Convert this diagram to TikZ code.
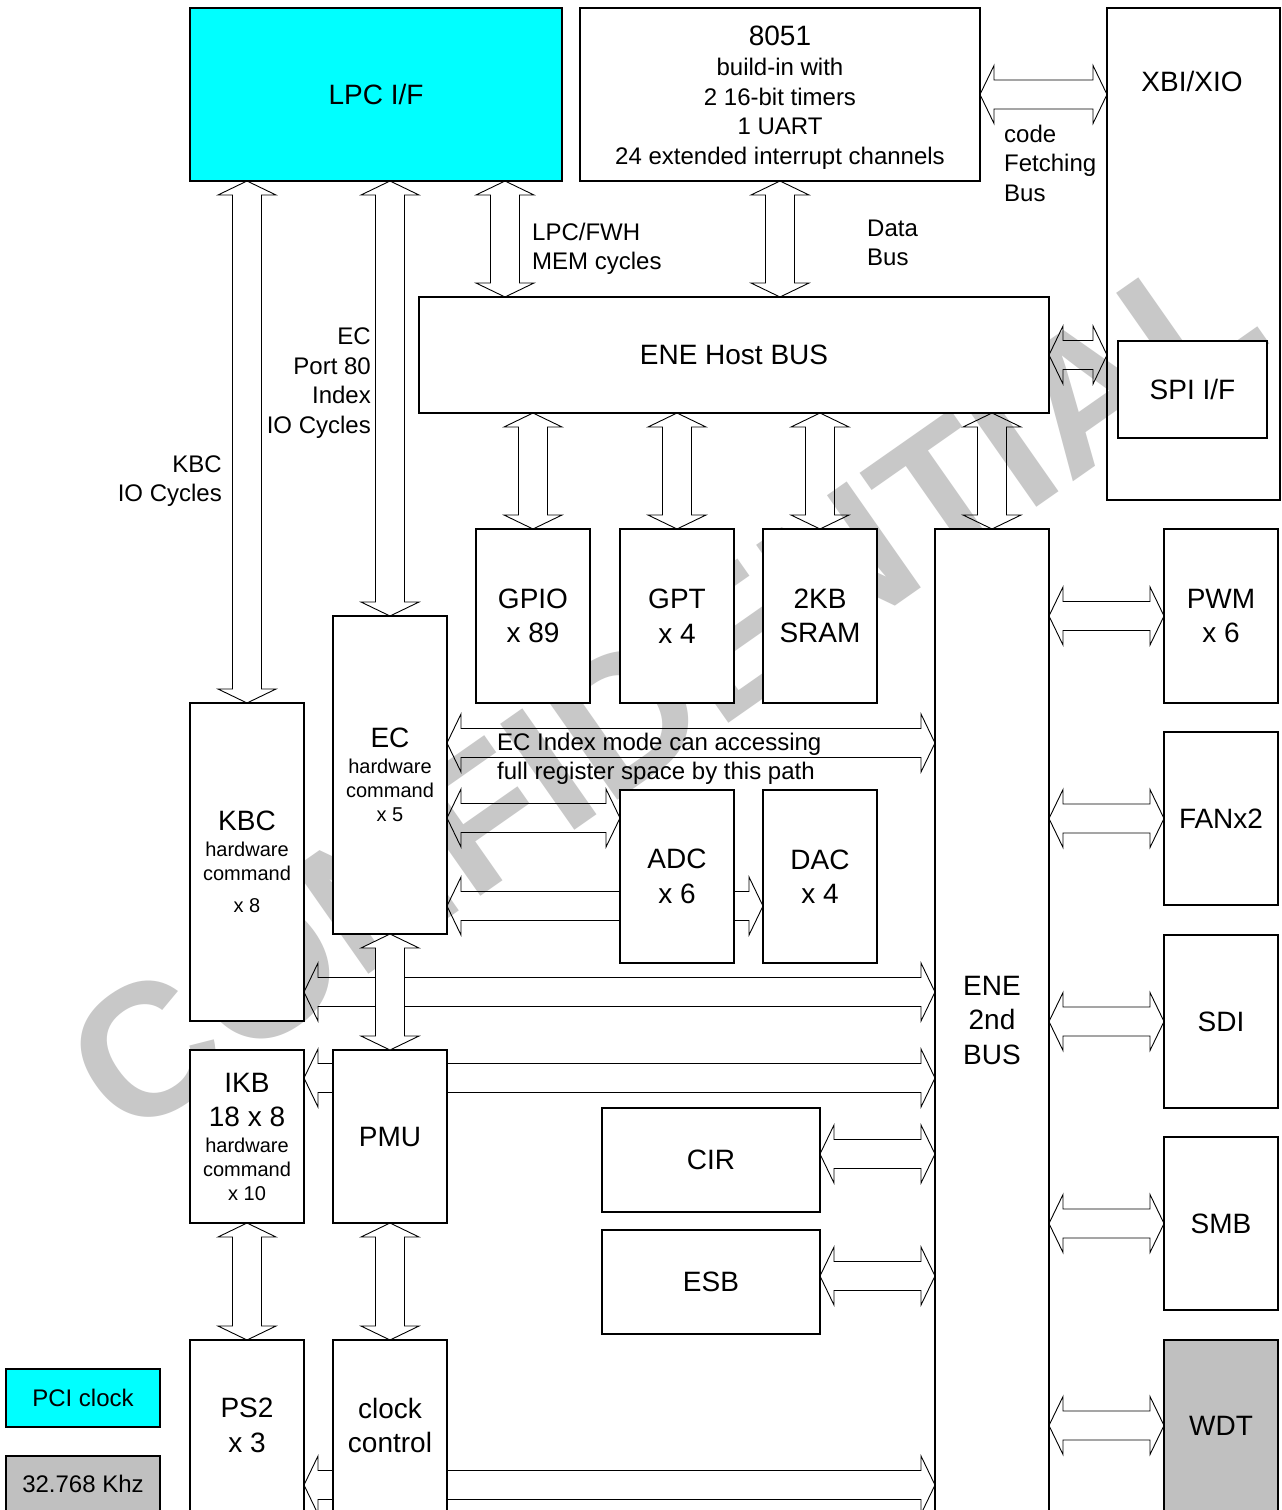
\documentclass[tikz,border=0pt]{standalone}
\usepackage{fontspec}
\setmainfont{Liberation Sans}
\usetikzlibrary{calc}
\definecolor{cyanbox}{RGB}{0,255,255}
\definecolor{graybox}{RGB}{192,192,192}
\definecolor{wmgray}{RGB}{200,200,200}
\pgfdeclarelayer{wmark}
\pgfdeclarelayer{arrows}
\pgfsetlayers{wmark,arrows,main}
% double-headed horizontal block arrow: left tip #2, right tip #3
\newcommand\HArr[3][blk]{%
 \draw[#1] let \p1=(#2), \p2=(#3) in
 (\x1,\y1) -- (\x1+14pt,\y1+29pt) -- (\x1+14pt,\y1+14.5pt) -- (\x2-14pt,\y1+14.5pt) -- (\x2-14pt,\y1+29pt) -- (\x2,\y1)
 -- (\x2-14pt,\y1-29pt) -- (\x2-14pt,\y1-14.5pt) -- (\x1+14pt,\y1-14.5pt) -- (\x1+14pt,\y1-29pt) -- cycle;}
% double-headed vertical block arrow: top tip #2, bottom tip #3
\newcommand\VArr[3][blk]{%
 \draw[#1] let \p1=(#2), \p2=(#3) in
 (\x1,\y1) -- (\x1+29pt,\y1-14pt) -- (\x1+14.5pt,\y1-14pt) -- (\x1+14.5pt,\y2+14pt) -- (\x1+29pt,\y2+14pt) -- (\x1,\y2)
 -- (\x1-29pt,\y2+14pt) -- (\x1-14.5pt,\y2+14pt) -- (\x1-14.5pt,\y1-14pt) -- (\x1-29pt,\y1-14pt) -- cycle;}
% single-headed, head at left (#1), flat end at right (#2)
\newcommand\LArr[2]{%
 \draw[blk] let \p1=(#1), \p2=(#2) in
 (\x1,\y1) -- (\x1+14pt,\y1+29pt) -- (\x1+14pt,\y1+14.5pt) -- (\x2,\y1+14.5pt) -- (\x2,\y1-14.5pt) -- (\x1+14pt,\y1-14.5pt) -- (\x1+14pt,\y1-29pt) -- cycle;}
% single-headed, flat end at left (#1), head at right (#2)
\newcommand\RArr[2]{%
 \draw[blk] let \p1=(#1), \p2=(#2) in
 (\x1,\y1+14.5pt) -- (\x2-14pt,\y1+14.5pt) -- (\x2-14pt,\y1+29pt) -- (\x2,\y1) -- (\x2-14pt,\y1-29pt) -- (\x2-14pt,\y1-14.5pt) -- (\x1,\y1-14.5pt) -- cycle;}
\newcommand\bigtxt[1]{{\fontsize{28}{34}\selectfont #1}}
\begin{document}
\begin{tikzpicture}[x=1pt,y=-1pt,
  box/.style={draw=black, line width=1.1pt, fill=white, inner sep=0pt, outer sep=0pt, align=center,
              font=\fontsize{28}{34.5}\selectfont},
  smallbox/.style={box, font=\fontsize{20}{24}\selectfont},
  blk/.style={draw=black, line width=0.9pt, line join=miter},
  blkw/.style={blk, fill=white},
  lbl/.style={inner sep=0pt, font=\fontsize{24}{29.5}\selectfont},
  wm/.style={text=wmgray, inner sep=0pt, font=\fontsize{188}{200}\selectfont\bfseries}]
\useasboundingbox (0,0) rectangle (1282,1510);

\begin{pgfonlayer}{wmark}
\fill[white] (0,0) rectangle (1282,1510);
\node[wm, rotate=35] (wmtext) at (664,689) {CONFIDENTIAL};
\end{pgfonlayer}

% ---------- boxes ----------
\node[box, fill=cyanbox, minimum width=372pt, minimum height=173pt] (lpc) at (376,94.5) {LPC I/F};
\node[box, minimum width=400pt, minimum height=173pt] (cpu) at (780,94.5) {};
\node[lbl, align=center] (cputxt) at (780,97.5)
  {\bigtxt{8051}\\[1pt] build-in with\\ 2 16-bit timers\\ 1 UART\\ 24 extended interrupt channels};
\node[box, fill=none, minimum width=173pt, minimum height=492pt] (xbi) at (1193.5,254) {};
\node[inner sep=0pt, font=\fontsize{28}{34}\selectfont] (xbitxt) at (1192,81) {XBI/XIO};
\node[box, minimum width=149pt, minimum height=97pt] (spi) at (1192.5,389.5) {SPI I/F};
\node[box, minimum width=630pt, minimum height=116pt] (host) at (734,355) {ENE Host BUS};

\node[box, minimum width=114pt, minimum height=174pt] (gpio) at (533,616) {GPIO\\x 89};
\node[box, minimum width=114pt, minimum height=174pt] (gpt) at (677,616) {GPT\\x 4};
\node[box, minimum width=114pt, minimum height=174pt] (sram) at (820,616) {2KB\\SRAM};
\node[box, minimum width=114pt, minimum height=982pt] (ene2) at (992,1020) {ENE\\2nd\\BUS};

\node[box, minimum width=114pt, minimum height=174pt] (pwm) at (1221,616) {PWM\\x 6};
\node[box, minimum width=114pt, minimum height=173pt] (fan) at (1221,818.5) {FANx2};
\node[box, minimum width=114pt, minimum height=173pt] (sdi) at (1221,1021.5) {SDI};
\node[box, minimum width=114pt, minimum height=173pt] (smb) at (1221,1223.5) {SMB};
\node[box, fill=graybox, minimum width=114pt, minimum height=171pt] (wdt) at (1221,1425.5) {WDT};

\node[smallbox, minimum width=114pt, minimum height=318pt] (ec) at (390,775)
  {\bigtxt{EC}\\[2pt] hardware\\ command\\ x 5};
\node[smallbox, minimum width=114pt, minimum height=318pt] (kbc) at (247,862)
  {\bigtxt{KBC}\\[2pt] hardware\\ command\\[8pt] x 8};
\node[box, minimum width=114pt, minimum height=173pt] (adc) at (677,876.5) {ADC\\x 6};
\node[box, minimum width=114pt, minimum height=173pt] (dac) at (820,876.5) {DAC\\x 4};

\node[smallbox, minimum width=114pt, minimum height=173pt] (ikb) at (247,1136.5)
  {\bigtxt{IKB}\\[10pt] \bigtxt{18 x 8}\\[2pt] hardware\\ command\\ x 10};
\node[box, minimum width=114pt, minimum height=173pt] (pmu) at (390,1136.5) {PMU};
\node[box, minimum width=218pt, minimum height=104pt] (cir) at (711,1160) {CIR};
\node[box, minimum width=218pt, minimum height=104pt] (esb) at (711,1282) {ESB};
\node[box, minimum width=114pt, minimum height=171pt] (ps2) at (247,1425.5) {PS2\\x 3};
\node[box, minimum width=114pt, minimum height=171pt] (clk) at (390,1425.5) {clock\\control};

\node[box, fill=cyanbox, minimum width=154pt, minimum height=58pt, font=\fontsize{24}{29.5}\selectfont] (pci) at (83,1398) {PCI clock};
\node[box, fill=graybox, minimum width=154pt, minimum height=55pt, font=\fontsize{24}{29.5}\selectfont] (khz) at (83,1483.5) {32.768 Khz};

% ---------- helper coordinates ----------
\coordinate (lpcfwhA) at ($(host.north west)+(86,0)$);
\coordinate (ecidxL) at ($(ec.north east)+(0,127)$);
\coordinate (adcin) at ($(adc.north west)+(0,28)$);
\coordinate (adcout) at ($(adc.south west)+(0,-57)$);
\coordinate (kbcR) at ($(kbc.south east)+(0,-29)$);
\coordinate (ikbR) at ($(ikb.north east)+(0,28)$);
\coordinate (ps2R) at ($(ps2.north east)+(0,145)$);
\coordinate (cirR) at ($(cir.east)+(0,-6)$);
\coordinate (esbR) at ($(esb.east)+(0,-6)$);

% ---------- block arrows ----------
\begin{pgfonlayer}{arrows}
\VArr{kbc.north |- lpc.south}{kbc.north}
\VArr{ec.north |- lpc.south}{ec.north}
\VArr{lpcfwhA |- lpc.south}{lpcfwhA}
\VArr{cpu.south}{cpu.south |- host.north}
\VArr{gpio.north |- host.south}{gpio.north}
\VArr{gpt.north |- host.south}{gpt.north}
\VArr{sram.north |- host.south}{sram.north}
\VArr{ene2.north |- host.south}{ene2.north}
\VArr{ikb.south}{ps2.north}
\VArr{pmu.south}{clk.north}

\HArr{cpu.east}{cpu.east -| xbi.west}
\HArr{host.east}{host.east -| xbi.west}
\HArr{ene2.east |- pwm.west}{pwm.west}
\HArr{ene2.east |- fan.west}{fan.west}
\HArr{ene2.east |- sdi.west}{sdi.west}
\HArr{ene2.east |- smb.west}{smb.west}
\HArr{ene2.east |- wdt.west}{wdt.west}

\HArr{ecidxL}{ecidxL -| ene2.west}
\HArr{ec.east |- adcin}{adcin}
\LArr{ec.east |- adcout}{adcout}
\RArr{adc.east |- adcout}{dac.west |- adcout}
\HArr{kbcR}{kbcR -| ene2.west}
\HArr{ikbR}{ikbR -| ene2.west}
\HArr{ps2R}{ps2R -| ene2.west}
\HArr{cirR}{cirR -| ene2.west}
\HArr{esbR}{esbR -| ene2.west}
\end{pgfonlayer}

\VArr[blkw]{ec.south}{pmu.north}

% ---------- labels ----------
\node[lbl, anchor=west, align=left] (lpcfwh) at (532,249) {LPC/FWH\\MEM cycles};
\node[lbl, anchor=west, align=left] (databus) at (867,243) {Data\\Bus};
\node[lbl, anchor=west, align=left] (codefetch) at (1004,163) {code\\Fetching\\Bus};
\node[lbl, anchor=east, align=right] (ecport) at (371,383) {EC\\Port 80\\Index\\IO Cycles};
\node[lbl, anchor=east, align=right] (kbcio) at (222,481) {KBC\\IO Cycles};
\node[lbl, anchor=west, align=left] (ecidx) at (497,759) {EC Index mode can accessing\\full register space by this path};
\end{tikzpicture}
\end{document}
